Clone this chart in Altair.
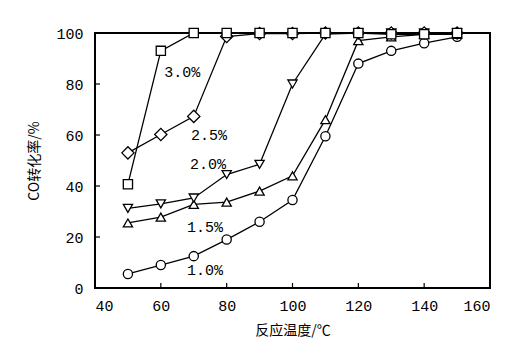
import altair as alt
import pandas as pd

temps = [50, 60, 70, 80, 90, 100, 110, 120, 130, 140, 150]
conv_10 = [5.5, 9, 12.5, 19, 26, 34.5, 59.5, 88, 93, 96, 98.5]
conv_15 = [25.5, 27.8, 32.8, 33.7, 38, 44, 66, 97, 98.5, 99.5, 99.5]
conv_20 = [31.2, 33, 35.3, 44.5, 48.5, 80, 99.6, 100, 100, 100, 100]
conv_25 = [53, 60.2, 67.3, 98.6, 99.8, 99.8, 100, 100, 100, 100, 100]
conv_30 = [40.7, 93, 100, 100, 100, 100, 100, 100, 99.5, 99.5, 100]

series_names = ["1.0%", "1.5%", "2.0%", "2.5%", "3.0%"]
series_shapes = ["circle", "triangle-up", "triangle-down", "diamond", "square"]

label_text = ["3.0%", "2.5%", "2.0%", "1.5%", "1.0%"]
label_x = [66.5, 74.6, 74.3, 73.4, 73.4]
label_y = [84.7, 60, 48.6, 23.9, 7.1]

x_ticks = [60, 80, 100, 120, 140]
y_ticks = [20, 40, 60, 80]

rows = []
for name, vals in zip(series_names, [conv_10, conv_15, conv_20, conv_25, conv_30]):
    for t, v in zip(temps, vals):
        rows.append({"series": name, "T": t, "conv": v})
df = pd.DataFrame(rows)

W, H = 395, 255
xs = alt.Scale(domain=[40, 160], nice=False)
ys = alt.Scale(domain=[0, 100], nice=False)

base = alt.Chart(df)
lines = base.mark_line(color="black", strokeWidth=1.3).encode(
    x=alt.X("T:Q", scale=xs, title="反应温度/℃",
            axis=alt.Axis(values=[40, 60, 80, 100, 120, 140, 160])),
    y=alt.Y("conv:Q", scale=ys, title="CO转化率/%",
            axis=alt.Axis(values=[0, 20, 40, 60, 80, 100])),
    detail="series:N",
)
points = base.mark_point(filled=True, fill="white", stroke="black", strokeWidth=1.3, opacity=1).encode(
    x=alt.X("T:Q", scale=xs),
    y=alt.Y("conv:Q", scale=ys),
    shape=alt.Shape("series:N", scale=alt.Scale(domain=series_names, range=series_shapes), legend=None),
    size=alt.condition(alt.datum.series == "2.5%", alt.value(150), alt.value(85)),
)

labels = alt.Chart(pd.DataFrame({"x": label_x, "y": label_y, "t": label_text})).mark_text(
    font="Liberation Mono", fontSize=15, color="black", align="center", baseline="middle"
).encode(x=alt.X("x:Q", scale=xs), y=alt.Y("y:Q", scale=ys), text="t:N")

xt = alt.Chart(pd.DataFrame({"t": x_ticks})).mark_rule(color="black", strokeWidth=1.2).encode(
    x=alt.X("t:Q", scale=xs), y=alt.value(H), y2=alt.value(H - 5))
yt = alt.Chart(pd.DataFrame({"t": y_ticks})).mark_rule(color="black", strokeWidth=1.2).encode(
    y=alt.Y("t:Q", scale=ys), x=alt.value(0), x2=alt.value(5))

chart = alt.layer(xt, yt, lines, points, labels).properties(
    width=W, height=H,
    autosize=alt.AutoSizeParams(type="none"),
    padding={"left": 87, "top": 25, "right": 20, "bottom": 50},
).configure_view(stroke="black", strokeWidth=2).configure_axis(
    domain=False, ticks=False, grid=False,
    labelFont="Liberation Mono", labelFontSize=15, labelColor="black",
    titleFont="Noto Sans CJK SC", titleFontSize=14, titleFontWeight="normal", titleColor="black",
).configure_axisX(labelPadding=10, titlePadding=10).configure_axisY(labelPadding=12, titlePadding=14)

chart.save("out.html", embed_options={"renderer": "svg", "actions": False})
